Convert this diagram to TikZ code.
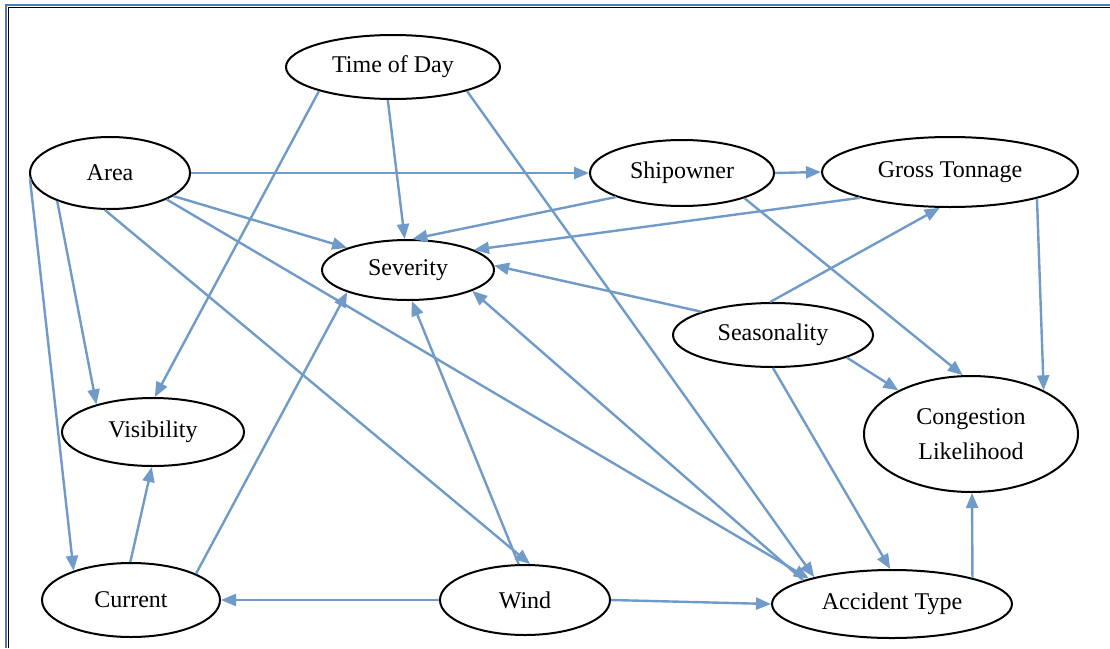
\documentclass[tikz,border=0pt]{standalone}
\usepackage{fontspec}
\setmainfont{Liberation Serif}
\usetikzlibrary{arrows.meta,shapes.geometric}
\definecolor{edgeblue}{RGB}{112,155,200}
\definecolor{frameblue}{RGB}{74,126,187}
\begin{document}
\begin{tikzpicture}[x=1pt,y=-1pt,
  var/.style={ellipse,draw=black,line width=2pt,fill=white,inner sep=0pt,
    font=\fontsize{24}{35}\selectfont,align=center},
  edge/.style={draw=edgeblue,line width=2.4pt,-{Triangle[length=15pt,width=12pt]}}]
\useasboundingbox (0,0) rectangle (1110,648);
\fill[white] (0,0) rectangle (1110,648);
% frame
\draw[frameblue,line width=2.5pt] (6,648) -- (6,5) -- (1110,5);
\draw[black,line width=0.8pt] (7.9,648) -- (7.9,6.9) -- (1110,6.9);
% nodes
\node[var,minimum width=214pt,minimum height=64pt] (td) at (393,67) {Time of Day};
\node[var,minimum width=160pt,minimum height=72pt] (ar) at (110,173) {Area};
\node[var,minimum width=184pt,minimum height=66pt] (sh) at (682,173) {Shipowner};
\node[var,minimum width=256pt,minimum height=70pt] (gt) at (950,172) {Gross Tonnage};
\node[var,minimum width=172pt,minimum height=60pt] (sv) at (408,270) {Severity};
\node[var,minimum width=200pt,minimum height=64pt] (se) at (773,335) {Seasonality};
\node[var,minimum width=214pt,minimum height=116pt] (cl) at (971,434) {Congestion\\Likelihood};
\node[var,minimum width=182pt,minimum height=68pt] (vi) at (153,432) {Visibility};
\node[var,minimum width=178pt,minimum height=74pt] (cu) at (131,600) {Current};
\node[var,minimum width=170pt,minimum height=70pt] (wi) at (525,600) {Wind};
\node[var,minimum width=240pt,minimum height=68pt] (at) at (892,604) {Accident Type};
% edges
\draw[edge] (ar.0) -- (sh.180);
\draw[edge] (sh.0) -- (gt.180);
\draw[edge] (ar.-20) -- (sv.160);
\draw[edge] (ar.-152) -- (vi.154);
\draw[edge] (ar.184) -- (cu.153);
\draw[edge] (ar.-98) -- (wi.82);
\draw[edge] (ar.-25) -- (at.163);
\draw[edge] (td.-162) -- (vi.87);
\draw[edge] (td.-99) -- (sv.96);
\draw[edge] (td.-18) -- (at.161);
\draw[edge] (sh.-160) -- (sv.82);
\draw[edge] (gt.-164) -- (sv.17);
\draw[edge] (sh.-22) -- (cl.98);
\draw[edge] (gt.-17) -- (cl.31);
\draw[edge] (se.95) -- (gt.-106);
\draw[edge] (se.162) -- (sv.3);
\draw[edge] (se.-17) -- (cl.149);
\draw[edge] (se.-90) -- (at.93);
\draw[edge] (at.165) -- (sv.-18);
\draw[edge] (wi.100) -- (sv.-83);
\draw[edge] (cu.22) -- (sv.-160);
\draw[edge] (cu.91) -- (vi.-92);
\draw[edge] (wi.180) -- (cu.0);
\draw[edge] (wi.0) -- (at.180);
\draw[edge] (at.18) -- (cl.-89);
\end{tikzpicture}
\end{document}
